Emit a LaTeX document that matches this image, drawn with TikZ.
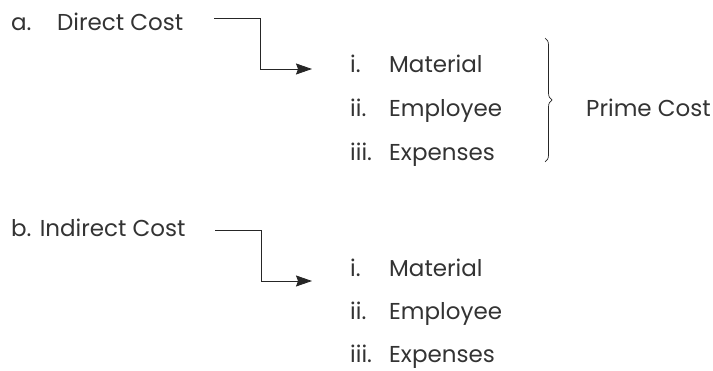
\documentclass[tikz,border=0pt]{standalone}
\usepackage{fontspec}
\setmainfont{Poppins}
\usepackage{xcolor}
\usetikzlibrary{arrows.meta,positioning,decorations.pathreplacing}

\begin{document}
\begin{tikzpicture}[x=1pt, y=-1pt, node distance=21.5pt,
    txt/.style={inner sep=0pt, text height=17pt, text depth=5pt, font=\fontsize{23}{27}\selectfont, text=black!80},
    item/.style={txt, text width=150pt, align=left},
    link/.style={draw=black!85, line width=0.9pt, -{Stealth[length=16pt, width=11pt, inset=2pt]}}]
    \useasboundingbox (0,0) rectangle (713,371);

    % direct cost
    \node (direct) [txt, anchor=base west] at (11,31) {\makebox[46pt][l]{a.}Direct Cost};
    \node (dmat) [item, anchor=base west] at (350,73) {\makebox[39pt][l]{i.}Material};
    \node (demp) [item, below=of dmat] {\makebox[39pt][l]{ii.}Employee};
    \node (dexp) [item, below=of demp] {\makebox[39pt][l]{iii.}Expenses};
    \node (prime) [txt, anchor=base west] at (586,117) {Prime Cost};

    \coordinate (dout) at (214,18);
    \coordinate (din) at (312,69);
    \draw [link] (dout) -- ++(46,0) |- (din);

    \coordinate (btop) at (545,38);
    \coordinate (bbot) at (545,162);
    \draw [decorate, decoration={brace, amplitude=7pt}, draw=black!85, line width=0.7pt] (btop) -- (bbot);

    % indirect cost
    \node (indirect) [txt, anchor=base west] at (11,237) {b. Indirect Cost};
    \node (imat) [item, anchor=base west] at (350,277) {\makebox[39pt][l]{i.}Material};
    \node (iemp) [item, below=20.5pt of imat] {\makebox[39pt][l]{ii.}Employee};
    \node (iexp) [item, below=20.5pt of iemp] {\makebox[39pt][l]{iii.}Expenses};

    \coordinate (iout) at (215,230);
    \coordinate (iin) at (312,281);
    \draw [link] (iout) -- ++(46,0) |- (iin);
\end{tikzpicture}
\end{document}
